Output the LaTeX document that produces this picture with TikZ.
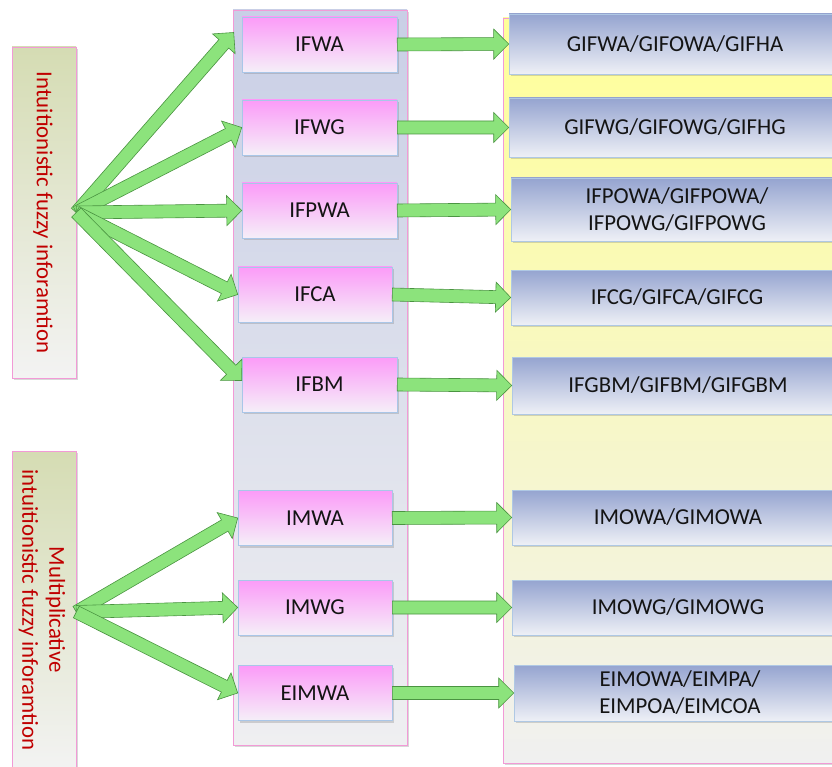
\documentclass[tikz,border=0pt]{standalone}
\usepackage{fontspec}
\setmainfont{Carlito}
\usetikzlibrary{calc,shadows}
\definecolor{pinktop}{HTML}{FB9BF8}
\definecolor{pinkbot}{HTML}{F5EFF8}
\definecolor{pinkline}{HTML}{A9C6E8}
\definecolor{bluetop}{HTML}{95A4D0}
\definecolor{bluebot}{HTML}{EEF0F6}
\definecolor{blueline}{HTML}{AFC8E4}
\definecolor{midtop}{HTML}{C9CFE6}
\definecolor{midbot}{HTML}{EFEFF1}
\definecolor{yeltop}{HTML}{FFFF99}
\definecolor{yelbot}{HTML}{F0F0F0}
\definecolor{lefttop}{HTML}{D5DCB3}
\definecolor{leftbot}{HTML}{F3F3F3}
\definecolor{frameline}{HTML}{F29AD6}
\definecolor{redtext}{HTML}{C00000}
\definecolor{agreen}{HTML}{8CE37C}
\definecolor{aborder}{HTML}{4A9441}
\tikzset{
  txt/.style={font=\fontsize{22.8}{27}\selectfont, text=black!92},
  shad/.style={drop shadow={shadow xshift=2pt,shadow yshift=-2pt,opacity=0.25,fill=black!60}},
  column/.style={draw=frameline, line width=0.6pt, inner sep=0, shad},
  pinkbox/.style={txt, draw=pinkline, line width=0.6pt, top color=pinktop, bottom color=pinkbot, minimum height=55pt, inner sep=0, shad},
  bluebox/.style={txt, draw=blueline, line width=0.6pt, top color=bluetop, bottom color=bluebot, minimum width=332pt, inner sep=0, align=center, shad},
  sidebox/.style={draw=frameline, line width=0.6pt, top color=lefttop, bottom color=leftbot, minimum width=64pt, inner sep=0, shad},
  sidetext/.style={txt, text=redtext, rotate=-90, align=center},
  garrow/.style={fill=agreen, draw=aborder, line width=0.6pt, line join=miter}
}
\newcommand\barrow[2]{%
  \coordinate (hh) at ($(#2)!15pt!(#1)$);
  \draw[garrow] ($(#1)!6.5pt!-90:(#2)$) -- ($(hh)!6.5pt!90:(#1)$) -- ($(hh)!15pt!90:(#1)$) -- (#2)
    -- ($(hh)!15pt!-90:(#1)$) -- ($(hh)!6.5pt!-90:(#1)$) -- ($(#1)!6.5pt!90:(#2)$) -- cycle;}
\begin{document}
\begin{tikzpicture}[x=1pt,y=-1pt]
\useasboundingbox (0,0) rectangle (832,767);
\clip (0,0) rectangle (832,767);
\fill[white] (0,0) rectangle (832,767);
% columns
\node[column, top color=midtop, bottom color=midbot, minimum width=174pt, minimum height=735pt] (midcol) at (320,377.5) {};
\node[column, top color=yeltop, bottom color=yelbot, minimum width=340pt, minimum height=745pt] (yelcol) at (673,390.5) {};
% side boxes
\node[sidebox, minimum height=331pt] (lb1) at (44,212.5) {};
\node[sidetext] (lt1) at (43,212.5) {Intuitionistic fuzzy inforamtion};
\node[sidebox, minimum height=322pt] (lb2) at (44,612) {};
\node[sidetext] (lt2) at (42,610) {Multiplicative\\intuitionistic fuzzy inforamtion};
% pink nodes
\node[pinkbox, minimum width=155pt] (ifwa) at (319.5,44.5) {IFWA};
\node[pinkbox, minimum width=155pt] (ifwg) at (319.5,127.5) {IFWG};
\node[pinkbox, minimum width=155pt] (ifpwa) at (319.5,210.5) {IFPWA};
\node[pinkbox, minimum width=154pt] (ifca) at (315,294.5) {IFCA};
\node[pinkbox, minimum width=155pt] (ifbm) at (319.5,384.5) {IFBM};
\node[pinkbox, minimum width=154pt] (imwa) at (315,518) {IMWA};
\node[pinkbox, minimum width=154pt] (imwg) at (315,607.5) {IMWG};
\node[pinkbox, minimum width=154pt] (eimwa) at (315,693) {EIMWA};
% blue nodes
\node[bluebox, minimum height=60pt] (gifwa) at (675,44) {GIFWA/GIFOWA/GIFHA};
\node[bluebox, minimum height=59pt] (gifwg) at (675,127.5) {GIFWG/GIFOWG/GIFHG};
\node[bluebox, minimum height=63pt] (ifpowa) at (677,209.5) {IFPOWA/GIFPOWA/\\IFPOWG/GIFPOWG};
\node[bluebox, minimum height=55pt] (ifcg) at (677,297.5) {IFCG/GIFCA/GIFCG};
\node[bluebox, minimum height=57pt] (ifgbm) at (678,385.5) {IFGBM/GIFBM/GIFGBM};
\node[bluebox, minimum height=55pt] (imowa) at (678,517.5) {IMOWA/GIMOWA};
\node[bluebox, minimum height=55pt] (imowg) at (678,607.5) {IMOWG/GIMOWG};
\node[bluebox, minimum height=56pt] (eimowa) at (680,693) {EIMOWA/EIMPA/\\EIMPOA/EIMCOA};
% fan arrows
\barrow{lb1.east}{$(ifwa.west)+(-8,-12)$}
\barrow{lb1.east}{ifwg.west}
\barrow{lb1.east}{ifpwa.west}
\barrow{lb1.east}{ifca.west}
\barrow{lb1.east}{$(ifbm.west)+(0,-4)$}
\barrow{lb2.east}{imwa.west}
\barrow{lb2.east}{imwg.west}
\barrow{lb2.east}{eimwa.west}
% horizontal arrows
\barrow{ifwa.east}{gifwa.west}
\barrow{ifwg.east}{gifwg.west}
\barrow{ifpwa.east}{ifpowa.west}
\barrow{ifca.east}{ifcg.west}
\barrow{ifbm.east}{ifgbm.west}
\barrow{imwa.east}{imowa.west}
\barrow{imwg.east}{imowg.west}
\barrow{eimwa.east}{eimowa.west}
\end{tikzpicture}
\end{document}
